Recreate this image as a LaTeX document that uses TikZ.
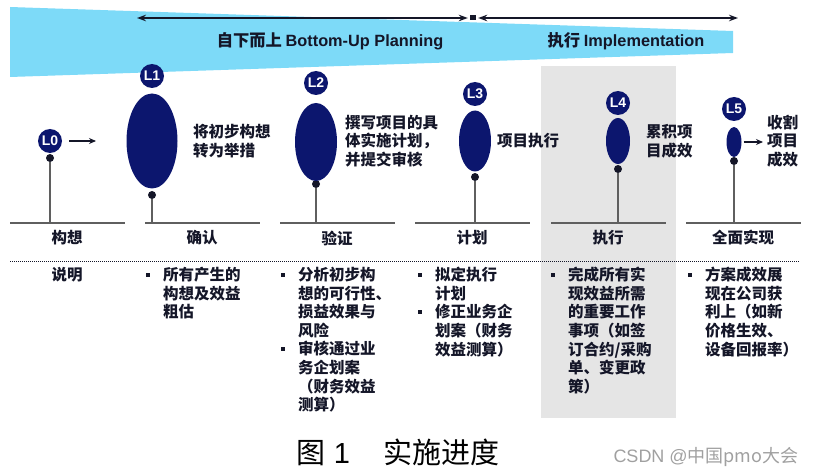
\documentclass[tikz,border=0pt]{standalone}
\usepackage{fontspec}
\setmainfont{Liberation Sans}
\newfontfamily\cjk{Noto Sans CJK SC}
\usetikzlibrary{shapes.geometric,arrows.meta,positioning}
\definecolor{navy}{RGB}{12,22,110}
\definecolor{bn}{RGB}{125,218,248}
\definecolor{boxg}{RGB}{229,229,229}
\definecolor{stem}{RGB}{95,95,95}
\definecolor{ink}{RGB}{20,22,40}
\definecolor{wm}{RGB}{160,160,160}
\newcommand\bul{\llap{\rule[4pt]{4pt}{4pt}\hspace{13pt}}}

\begin{document}
\begin{tikzpicture}[x=1pt,y=-1pt,
  every node/.style={inner sep=0pt,font={\cjk\bfseries\fontsize{15.5}{18.6}\selectfont}},%
  lv/.style={circle,fill=navy,text=white,minimum size=24pt,%
    font={\bfseries\fontsize{14}{14}\selectfont}},%
  el/.style={ellipse,fill=navy},%
  dt/.style={circle,fill=ink,minimum size=8pt},%
  st/.style={draw=stem,line width=1.4pt},%
  ar/.style={-{Stealth[length=7pt,width=6pt]},line width=1.6pt,draw=ink},%
  hd/.style={{Stealth[length=9pt,width=6.5pt]}-{Stealth[length=9pt,width=6.5pt]},%
    line width=1.8pt,draw=ink},%
  ht/.style={text=ink,font={\cjk\bfseries\fontsize{16.3}{18}\selectfont}},%
  tx/.style={anchor=west,align=left,text=ink},%
  sg/.style={text=ink},%
  cl/.style={anchor=north west,align=left,text=ink},%
  ]
  \useasboundingbox (0,0) rectangle (817,476);
  % banner and grey column
  \fill[bn] (10,7) -- (733,31) -- (733,53) -- (10,77) -- cycle;
  \fill[boxg] (541,66) rectangle (676,418);
  % top arrows
  \node (sq) [fill=ink,minimum width=6pt,minimum height=5pt] at (473,18) {};
  \coordinate (p1) at (137,18);
  \coordinate (p4) at (738,18);
  \draw [hd,shorten >=2pt] (p1) -- (sq);
  \draw [hd,shorten <=2pt] (sq) -- (p4);
  \node (bu) [ht] at (330,41) {自下而上 {\rmfamily Bottom-Up Planning}};
  \node (im) [ht] at (626,41) {执行 {\rmfamily Implementation}};
  % base lines
  \foreach \a in {10,145,280,415,551,686}
    \draw [st] (\a,223) -- ++(115,0);
  % levels
  \coordinate (b0) at (50,223);
  \coordinate (b1) at (152,223);
  \coordinate (b2) at (316,223);
  \coordinate (b3) at (475,223);
  \coordinate (b4) at (618,223);
  \coordinate (b5) at (734,223);
  \node (d0) [dt] at (50,158) {};
  \node (d1) [dt] at (152,195) {};
  \node (d2) [dt] at (316,184) {};
  \node (d3) [dt] at (475,177) {};
  \node (d4) [dt] at (618,169) {};
  \node (d5) [dt] at (734,161) {};
  \draw [st] (d0) -- (b0);
  \draw [st] (d1) -- (b1);
  \draw [st] (d2) -- (b2);
  \draw [st] (d3) -- (b3);
  \draw [st] (d4) -- (b4);
  \draw [st] (d5) -- (b5);
  \node (e1) [el,minimum width=51pt,minimum height=95pt] at (152,141) {};
  \node (e2) [el,minimum width=42pt,minimum height=78pt] at (316,142) {};
  \node (e3) [el,minimum width=32pt,minimum height=61pt] at (475,141) {};
  \node (e4) [el,minimum width=24pt,minimum height=46pt] at (618,141) {};
  \node (e5) [el,minimum width=15pt,minimum height=30pt] at (734,142) {};
  \node (l0) [lv] at (50,141) {L0};
  \node (l1) [lv] at (152,76) {L1};
  \node (l2) [lv] at (316,83) {L2};
  \node (l3) [lv] at (475,94) {L3};
  \node (l4) [lv] at (618,103) {L4};
  \node (l5) [lv] at (734,109) {L5};
  \coordinate (a0) at (96,141);
  \draw [ar,shorten <=7pt] (l0) -- (a0);
  \node (t1) [tx] at (193,141) {将初步构想\\转为举措};
  \node (t2) [tx] at (345,141) {撰写项目的具\\体实施计划，\\并提交审核};
  \node (t3) [tx] at (497,141) {项目执行};
  \node (t4) [tx] at (646,141) {累积项\\目成效};
  \node (t5) [tx] at (767,141) {收割\\项目\\成效};
  \draw [ar,shorten <=2pt,shorten >=4pt] (e5.east) -- (e5.east -| t5.west);
  % stage names
  \node (s0) [sg] at (67,238) {构想};
  \node (s1) [sg] at (202,238) {确认};
  \node (s2) [sg] at (337,238) {验证};
  \node (s3) [sg] at (472,238) {计划};
  \node (s4) [sg] at (608,238) {执行};
  \node (s5) [sg] at (743,238) {全面实现};
  \draw [ink,line width=1pt,dash pattern=on 1pt off 1pt] (10,261) -- (800,261);
  % descriptions
  \node (sm) [sg] at (67,275) {说明};
  \node (c1) [cl] at (163,267) {\bul 所有产生的\\构想及效益\\粗估};
  \node (c2) [cl] at (298,267) {\bul 分析初步构\\想的可行性、\\损益效果与\\风险\\\bul 审核通过业\\务企划案\\（财务效益\\测算）};
  \node (c3) [cl] at (435,267) {\bul 拟定执行\\计划\\\bul 修正业务企\\划案（财务\\效益测算）};
  \node (c4) [cl] at (568,267) {\bul 完成所有实\\现效益所需\\的重要工作\\事项（如签\\订合约/采购\\单、变更政\\策）};
  \node (c5) [cl] at (705,267) {\bul 方案成效展\\现在公司获\\利上（如新\\价格生效、\\设备回报率）};
  % caption
  \node (cap) [font={\cjk\fontsize{29}{29}\selectfont},text=black] at (398,452)
    {图{\rmfamily\ 1}\hspace{33pt}实施进度};
  \node (wmk) [font={\cjk\fontsize{18}{18}\selectfont},text=wm] at (706,457)
    {{\rmfamily CSDN @}中国pmo大会};
\end{tikzpicture}
\end{document}
